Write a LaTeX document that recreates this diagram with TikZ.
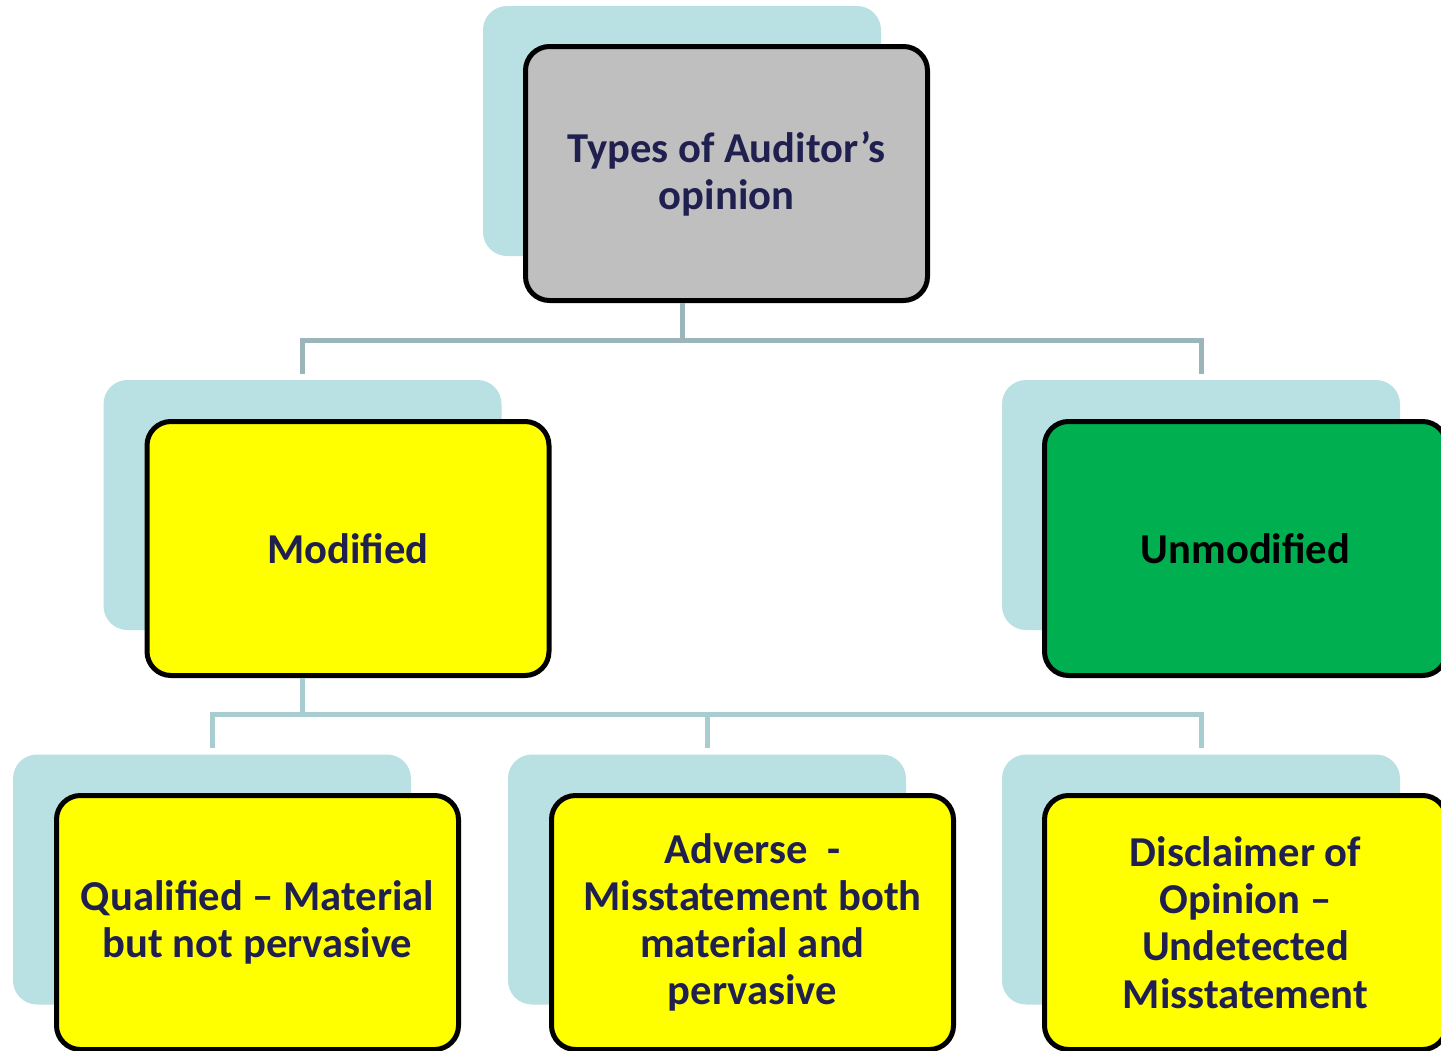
\documentclass[tikz,border=0pt]{standalone}
\usepackage{fontspec}
\setmainfont{Carlito}
\usetikzlibrary{calc}
\definecolor{shade}{RGB}{185,224,227}
\definecolor{ink}{RGB}{31,31,80}
\definecolor{gbox}{RGB}{191,191,191}
\definecolor{ybox}{RGB}{255,255,0}
\definecolor{greenbox}{RGB}{0,176,80}
\definecolor{linktop}{RGB}{155,181,185}
\definecolor{linkbot}{RGB}{168,205,209}
\def\BarOne{340}
\def\BarTwo{714}
\tikzset{
  back/.style={fill=shade, rounded corners=12pt, minimum width=199pt, minimum height=125pt, inner sep=0pt},
  front/.style={draw=black, line width=2.5pt, rounded corners=12pt, minimum width=201pt, minimum height=127pt,
    inner sep=0pt, align=center, text=ink, font=\bfseries\fontsize{21.3}{23.6}\selectfont},
  link/.style={line width=2.5pt, linkbot},
}
\begin{document}
\begin{tikzpicture}[x=0.5pt,y=-0.5pt]
  \useasboundingbox (0,0) rectangle (1441,1050);
  \clip (0,0) rectangle (1441,1050);
  % shadow boxes
  \node[back] (topb) at (682,131) {};
  \node[back] (modb) at (302.5,505) {};
  \node[back] (unmodb) at (1201,505) {};
  \node[back] (qualb) at (212,879.5) {};
  \node[back] (advb) at (707,879.5) {};
  \node[back] (discb) at (1201,879.5) {};
  % main boxes
  \node[front, fill=gbox] (top) at (726.5,173.5) {Types of Auditor’s\\opinion};
  \node[front, fill=ybox] (mod) at (348,548.5) {Modified};
  \node[front, fill=greenbox, text=black] (unmod) at (1245.5,548.5) {Unmodified};
  \node[front, fill=ybox] (qual) at (257.5,922.5) {Qualified – Material\\but not pervasive};
  \node[front, fill=ybox] (adv) at (752.5,922.5) {Adverse~~-\\Misstatement both\\material and\\pervasive};
  \node[front, fill=ybox] (disc) at (1245.5,922.5) {Disclaimer of\\Opinion –\\Undetected\\Misstatement};
  % connectors
  \draw[link, linktop] (topb.south |- top.south) -- (topb.south |- 0,\BarOne) -| ([yshift=3pt]modb.north);
  \draw[link, linktop] (topb.south |- 0,\BarOne) -| ([yshift=3pt]unmodb.north);
  \draw[link] (modb.south |- mod.south) -- (modb.south |- 0,\BarTwo) -| ([yshift=3pt]qualb.north);
  \draw[link] (modb.south |- 0,\BarTwo) -| ([yshift=3pt]advb.north);
  \draw[link] (modb.south |- 0,\BarTwo) -| ([yshift=3pt]discb.north);
\end{tikzpicture}
\end{document}
